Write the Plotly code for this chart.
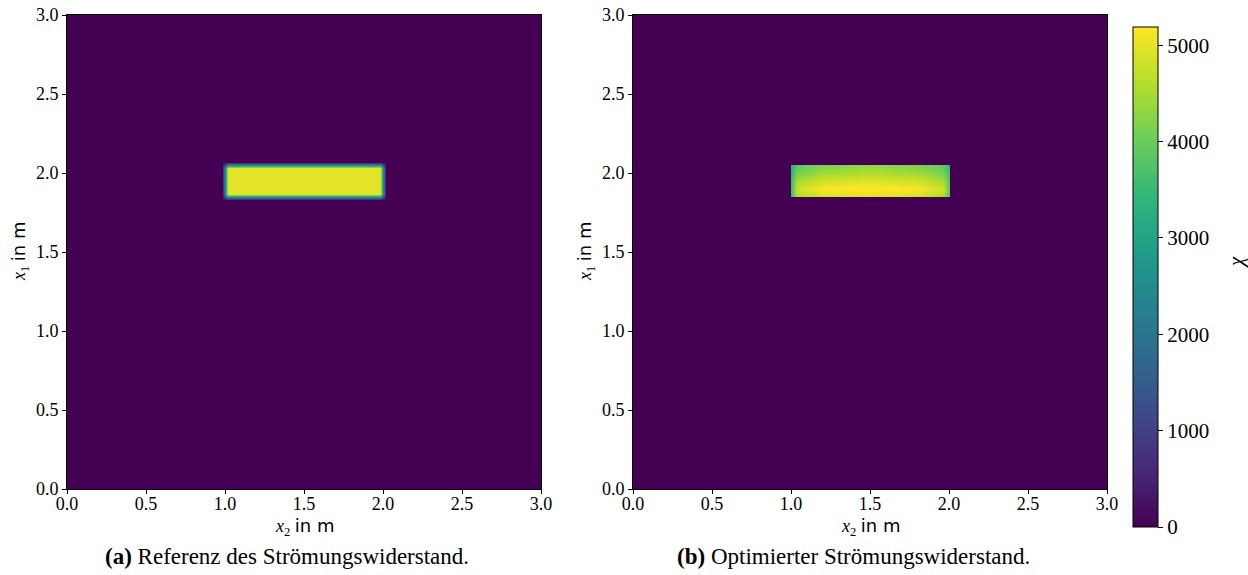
import plotly.graph_objects as go

W, H = 1248, 575

# ---------------- data ----------------
# (a) reference resistance field chi(x1, x2): sample points and values
ref_x2 = [0.0, 0.98, 1.02, 1.98, 2.02, 3.0]
ref_x1 = [0.0, 1.83, 1.87, 2.03, 2.07, 3.0]
ref_chi = [
    [0, 0, 0, 0, 0, 0],
    [0, 0, 0, 0, 0, 0],
    [0, 0, 4980, 4980, 0, 0],
    [0, 0, 4980, 4980, 0, 0],
    [0, 0, 0, 0, 0, 0],
    [0, 0, 0, 0, 0, 0],
]

# (b) optimised resistance field: sample points and values inside the block
opt_x2 = [0.0, 0.995, 1.0, 1.04, 1.2, 1.5, 1.8, 1.96, 2.0, 2.005, 3.0]
opt_x1 = [0.0, 1.845, 1.85, 1.9, 1.95, 2.0, 2.05, 2.055, 3.0]
opt_inner = [  # rows x1 = 1.85 .. 2.05, cols x2 = 1.0 .. 2.0
    [3500, 4500, 4850, 4950, 4850, 4500, 3800],
    [3600, 4800, 5150, 5190, 5150, 4800, 3900],
    [3500, 4500, 4850, 4950, 4850, 4500, 3800],
    [3400, 4100, 4450, 4600, 4450, 4100, 3600],
    [3300, 3900, 4150, 4300, 4150, 3900, 3400],
]

chi_min, chi_max = 0, 5190
cbar_ticks = [0, 1000, 2000, 3000, 4000, 5000]
axis_ticks = [0.0, 0.5, 1.0, 1.5, 2.0, 2.5, 3.0]
axis_ticktext = ["0.0", "0.5", "1.0", "1.5", "2.0", "2.5", "3.0"]
captions = ["<b>(a)</b> Referenz des Strömungswiderstand.",
            "<b>(b)</b> Optimierter Strömungswiderstand."]

# pad optimised block with zero rows/cols
opt_chi = [[0] * len(opt_x2), [0] * len(opt_x2)]
for row in opt_inner:
    opt_chi.append([0, 0] + row + [0, 0])
opt_chi += [[0] * len(opt_x2), [0] * len(opt_x2)]

# ---------------- layout geometry (pixels) ----------------
L, R, T, B = 67, 1107, 15, 489
PW, PH = R - L, B - T

def px_x(p):
    return (p - L) / PW

def px_y(p):
    return (B - p) / PH

plots = [(67, 541), (633, 1107)]

# ---------------- figure ----------------
SERIF = "Liberation Serif"
fig = go.Figure()
fig.add_trace(go.Heatmap(x=ref_x2, y=ref_x1, z=ref_chi, coloraxis="coloraxis",
                         zsmooth="best", xaxis="x", yaxis="y"))
fig.add_trace(go.Heatmap(x=opt_x2, y=opt_x1, z=opt_chi, coloraxis="coloraxis",
                         zsmooth="best", xaxis="x2", yaxis="y2"))

ax_common = dict(range=[0, 3], tickvals=axis_ticks, ticktext=axis_ticktext,
                 ticks="outside", ticklen=4, tickwidth=1, tickcolor="black",
                 showline=True, linecolor="black", linewidth=1, mirror=True,
                 showgrid=False, zeroline=False,
                 tickfont=dict(family=SERIF, size=18, color="black"))
xax_extra = dict(ticklabelstandoff=-6)

fig.update_layout(
    width=W, height=H,
    margin=dict(l=L, r=W - R, t=T, b=H - B, autoexpand=False),
    paper_bgcolor="white", plot_bgcolor="white",
    font=dict(family=SERIF, color="black"),
    showlegend=False,
    xaxis=dict(domain=[px_x(plots[0][0]), px_x(plots[0][1])], anchor="y", **ax_common, **xax_extra),
    yaxis=dict(domain=[0, 1], anchor="x", **ax_common),
    xaxis2=dict(domain=[px_x(plots[1][0]), px_x(plots[1][1])], anchor="y2", **ax_common, **xax_extra),
    yaxis2=dict(domain=[0, 1], anchor="x2", **ax_common),
    coloraxis=dict(
        colorscale="Viridis", cmin=chi_min, cmax=chi_max,
        colorbar=dict(
            x=px_x(1133), xanchor="left", y=px_y(527), yanchor="bottom",
            len=(527 - 27) / PH, lenmode="fraction", thickness=25,
            xpad=0, ypad=0, outlinewidth=1, outlinecolor="black",
            tickvals=cbar_ticks, ticks="outside", ticklen=5, tickcolor="black",
            tickfont=dict(family=SERIF, size=21, color="black"),
        ),
    ),
)

ann = []
xlabel = "<i>x</i><sub>2</sub> <span style='font-family:DejaVu Sans'>in m</span>"
ylabel = "<i>x</i><sub>1</sub> <span style='font-family:DejaVu Sans'>in m</span>"
for i, (l, r) in enumerate(plots):
    cx = (l + r) / 2
    ann.append(dict(x=px_x(cx), y=px_y(527), xref="paper", yref="paper",
                    text=xlabel, showarrow=False, xanchor="center", yanchor="middle",
                    font=dict(family=SERIF, size=18, color="black")))
    ann.append(dict(x=px_x(l - 47), y=px_y((T + B) / 2), xref="paper", yref="paper",
                    text=ylabel, showarrow=False, textangle=-90,
                    xanchor="center", yanchor="middle",
                    font=dict(family=SERIF, size=18, color="black")))
    ann.append(dict(x=px_x(cx - 17), y=px_y(556), xref="paper", yref="paper",
                    text=captions[i], showarrow=False, xanchor="center", yanchor="middle",
                    font=dict(family=SERIF, size=23, color="black")))
ann.append(dict(x=px_x(1236), y=px_y(262), xref="paper", yref="paper",
                text="<i>χ</i>", showarrow=False, textangle=-90,
                xanchor="center", yanchor="middle",
                font=dict(family=SERIF, size=21, color="black")))
fig.update_layout(annotations=ann)

fig.write_html("out.html", config={"displayModeBar": False},
               post_script="document.body.style.margin='0';document.body.style.padding='0';")
